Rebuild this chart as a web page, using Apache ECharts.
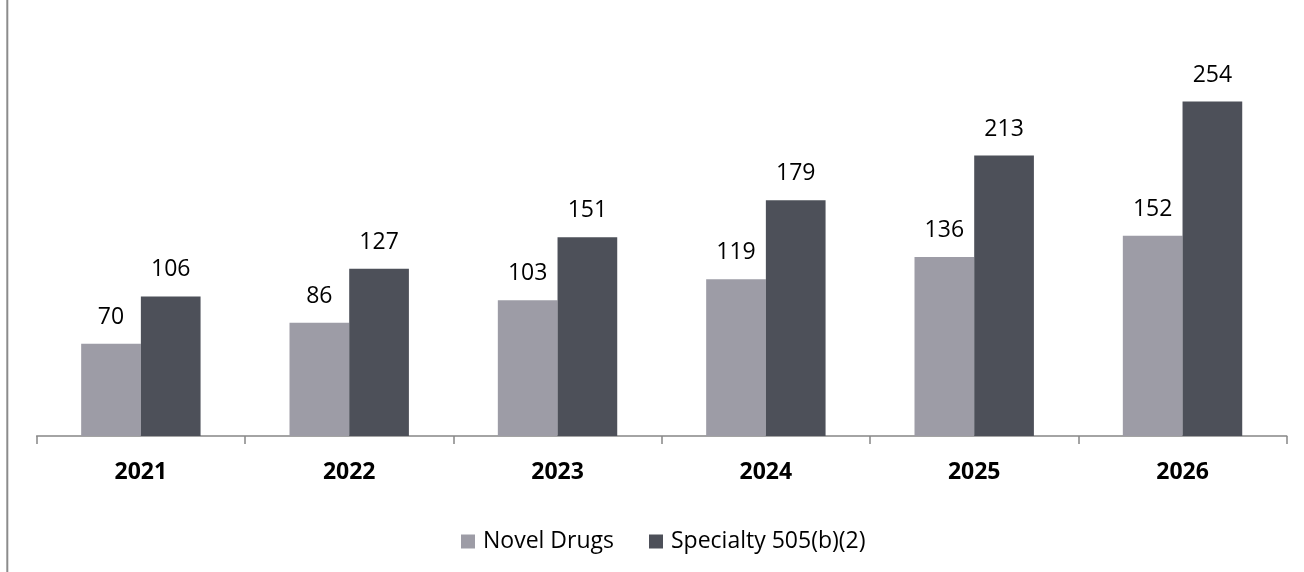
<!DOCTYPE html>
<html>
<head>
<meta charset="utf-8">
<script src="https://cdn.jsdelivr.net/npm/echarts@6/dist/echarts.min.js"></script>
<style>
html,body{margin:0;padding:0;background:#fff;}
#chart{width:1304px;height:572px;}
</style>
</head>
<body>
<div id="chart"></div>
<script>
const categories = ['2021', '2022', '2023', '2024', '2025', '2026'];
const novelDrugs = [70, 86, 103, 119, 136, 152];
const specialty505b2 = [106, 127, 151, 179, 213, 254];
const seriesNames = ['Novel Drugs', 'Specialty 505(b)(2)'];

const FONT = '"Open Sans", "Noto Sans", sans-serif';
const chart = echarts.init(document.getElementById('chart'), null, {renderer: 'canvas'});
chart.setOption({
  animation: false,
  backgroundColor: '#ffffff',
  graphic: [{
    type: 'line',
    shape: {x1: 7.3, y1: 0, x2: 7.3, y2: 572},
    style: {stroke: '#8c8c8c', lineWidth: 2}
  }],
  grid: {left: 36.7, right: 17.3, top: 40.9, bottom: 136, containLabel: false},
  legend: {
    left: 461, top: 530, padding: 0,
    itemWidth: 14, itemHeight: 14, itemGap: 35,
    icon: 'rect',
    textStyle: {fontFamily: FONT, fontSize: 23, color: '#000', padding: [0, 0, 0, 3]},
    data: seriesNames
  },
  xAxis: {
    type: 'category',
    data: categories,
    axisLine: {lineStyle: {color: '#868686', width: 1.5}},
    axisTick: {show: true, length: 8, lineStyle: {color: '#868686', width: 1.5}},
    axisLabel: {fontFamily: FONT, fontSize: 23, fontWeight: 'bold', color: '#000', margin: 25}
  },
  yAxis: {
    type: 'value', min: 0, max: 300, show: false,
    splitLine: {show: false}
  },
  series: [
    {
      name: seriesNames[0], type: 'bar', data: novelDrugs,
      barWidth: 59.7, barGap: '0%',
      itemStyle: {color: '#9d9ca6'},
      label: {show: true, position: 'top', distance: 15, fontFamily: FONT, fontSize: 23, color: '#000'}
    },
    {
      name: seriesNames[1], type: 'bar', data: specialty505b2,
      barWidth: 59.7, barGap: '0%',
      itemStyle: {color: '#4d5059'},
      label: {show: true, position: 'top', distance: 15, fontFamily: FONT, fontSize: 23, color: '#000'}
    }
  ]
});
</script>
</body>
</html>
